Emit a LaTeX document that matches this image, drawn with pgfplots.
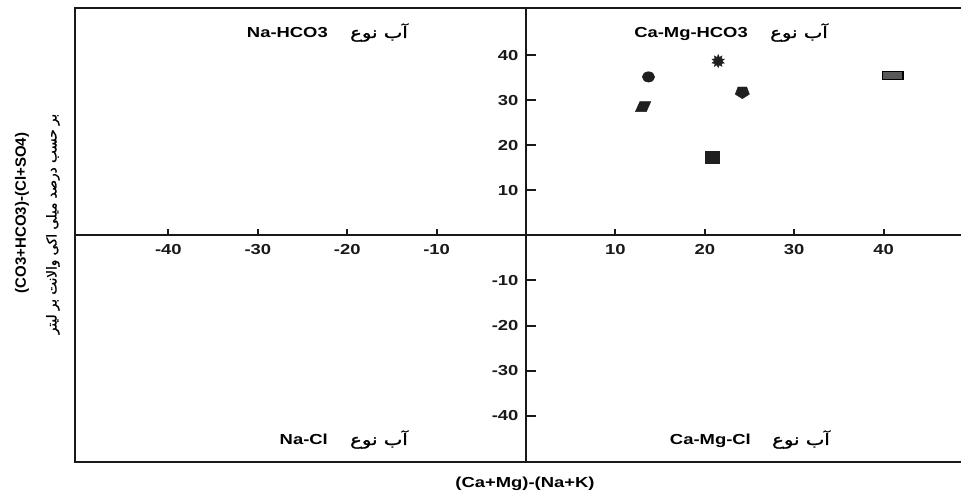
\documentclass[border=0pt]{standalone}
\usepackage{pgfplots}
\pgfplotsset{compat=1.18}
\usepackage{fontspec}
\setmainfont{Liberation Sans}
\newfontfamily\arabicfont[Script=Arabic,FakeBold=1.2]{DejaVu Sans}
\TeXXeTstate=1
\usetikzlibrary{plotmarks}
\newcommand\W[1]{\scalebox{1.27}[1]{#1}}
\newcommand\F{\fontsize{14.5}{17}\selectfont\bfseries}
\newcommand\FA{\fontsize{15.5}{18}\selectfont\arabicfont}
\newcommand\Pp[2]{({#1pt},{494pt-#2pt})}
\pgfdeclareplotmark{fstar}{%
  \pgfpathmoveto{\pgfpointpolar{90}{\pgfplotmarksize}}%
  \pgfpathlineto{\pgfpointpolar{108}{0.6\pgfplotmarksize}}%
  \pgfpathlineto{\pgfpointpolar{126}{\pgfplotmarksize}}%
  \pgfpathlineto{\pgfpointpolar{144}{0.6\pgfplotmarksize}}%
  \pgfpathlineto{\pgfpointpolar{162}{\pgfplotmarksize}}%
  \pgfpathlineto{\pgfpointpolar{180}{0.6\pgfplotmarksize}}%
  \pgfpathlineto{\pgfpointpolar{198}{\pgfplotmarksize}}%
  \pgfpathlineto{\pgfpointpolar{216}{0.6\pgfplotmarksize}}%
  \pgfpathlineto{\pgfpointpolar{234}{\pgfplotmarksize}}%
  \pgfpathlineto{\pgfpointpolar{252}{0.6\pgfplotmarksize}}%
  \pgfpathlineto{\pgfpointpolar{270}{\pgfplotmarksize}}%
  \pgfpathlineto{\pgfpointpolar{288}{0.6\pgfplotmarksize}}%
  \pgfpathlineto{\pgfpointpolar{306}{\pgfplotmarksize}}%
  \pgfpathlineto{\pgfpointpolar{324}{0.6\pgfplotmarksize}}%
  \pgfpathlineto{\pgfpointpolar{342}{\pgfplotmarksize}}%
  \pgfpathlineto{\pgfpointpolar{0}{0.6\pgfplotmarksize}}%
  \pgfpathlineto{\pgfpointpolar{18}{\pgfplotmarksize}}%
  \pgfpathlineto{\pgfpointpolar{36}{0.6\pgfplotmarksize}}%
  \pgfpathlineto{\pgfpointpolar{54}{\pgfplotmarksize}}%
  \pgfpathlineto{\pgfpointpolar{72}{0.6\pgfplotmarksize}}%
  \pgfpathclose
  \pgfusepathqfillstroke
}
\begin{document}
\begin{tikzpicture}
\useasboundingbox (0,0) rectangle (961pt,494pt);
\begin{axis}[
  at={(75pt,32pt)}, anchor=south west,
  width=886pt, height=454pt, scale only axis,
  xmin=-50.45, xmax=48.66, ymin=-50.3, ymax=50.5,
  axis lines=middle,
  axis line style={-, line width=2pt, black!90},
  every inner x axis line/.append style={-},
  every inner y axis line/.append style={-},
  clip=false,
  xtick={-40,-30,-20,-10,10,20,30,40},
  xticklabels={\W{-40},\W{-30},\W{-20},\W{-10},\W{10},\W{20},\W{30},\W{40}},
  ytick={-40,-30,-20,-10,10,20,30,40},
  yticklabels={\W{-40},\W{-30},\W{-20},\W{-10},\W{10},\W{20},\W{30},\W{40}},
  tick label style={font=\F, text=black!90},
  xticklabel style={yshift=-5pt},
  yticklabel style={xshift=-4pt},
  tick align=inside,
  major tick length=0pt,
]
\addplot[only marks, mark=*, mark size=5.2pt, mark options={xscale=1.2, fill=black!88, draw=black!88}] coordinates {(13.7,35.2)};
\addplot[only marks, mark=fstar, mark size=6.5pt, mark options={fill=black!88, draw=black!88}] coordinates {(21.5,38.7)};
\addplot[only marks, mark=square*, mark size=4pt, mark options={xscale=2.6, fill=black!65, draw=black, line width=1.2pt}] coordinates {(41.0,35.6)};
\addplot[only marks, mark=pentagon*, mark size=6.5pt, mark options={rotate=180, xscale=1.15, fill=black!88, draw=black!88}] coordinates {(24.2,31.8)};
\addplot[only marks, mark=square*, mark size=5pt, mark options={xslant=0.45, xscale=1.1, fill=black!88, draw=black!88}] coordinates {(13.1,28.6)};
\addplot[only marks, mark=square*, mark size=6pt, mark options={xscale=1.15, fill=black!88, draw=black!88}] coordinates {(20.8,17.3)};
\pgfplotsinvokeforeach{-40,-30,-20,-10,10,20,30,40}{
  \draw[line width=2pt, black!90] (axis cs:#1,0) -- ([yshift=6pt]axis cs:#1,0);
  \draw[line width=2pt, black!90] (axis cs:0,#1) -- ([xshift=10pt]axis cs:0,#1);
}
\draw[line width=2.2pt, black!90] (rel axis cs:1,1) -- (rel axis cs:0,1) -- (rel axis cs:0,0) -- (rel axis cs:1,0);
\end{axis}
\node[anchor=base east, inner sep=0] at \Pp{328}{38} {\W{\F Na-HCO3}};
\node[anchor=base east, inner sep=0] at \Pp{408}{38} {\W{\FA\beginR آب نوع\endR}};
\node[anchor=base east, inner sep=0] at \Pp{748}{38} {\W{\F Ca-Mg-HCO3}};
\node[anchor=base east, inner sep=0] at \Pp{828}{38} {\W{\FA\beginR آب نوع\endR}};
\node[anchor=base east, inner sep=0] at \Pp{328}{445} {\W{\F Na-Cl}};
\node[anchor=base east, inner sep=0] at \Pp{408}{445} {\W{\FA\beginR آب نوع\endR}};
\node[anchor=base east, inner sep=0] at \Pp{751}{445} {\W{\F Ca-Mg-Cl}};
\node[anchor=base east, inner sep=0] at \Pp{830}{445} {\W{\FA\beginR آب نوع\endR}};
\node[anchor=base, inner sep=0] at \Pp{525}{488} {\W{\F (Ca+Mg)-(Na+K)}};
\node[rotate=90, inner sep=0] at \Pp{22}{213} {\fontsize{15}{17}\selectfont\bfseries (CO3+HCO3)-(Cl+SO4)};
\node[rotate=90, inner sep=0] at \Pp{53}{224} {\fontsize{13.5}{17}\selectfont\arabicfont\beginR بر حسب درصد میلی اکی والانت بر لیتر\endR};
\end{tikzpicture}
\end{document}
